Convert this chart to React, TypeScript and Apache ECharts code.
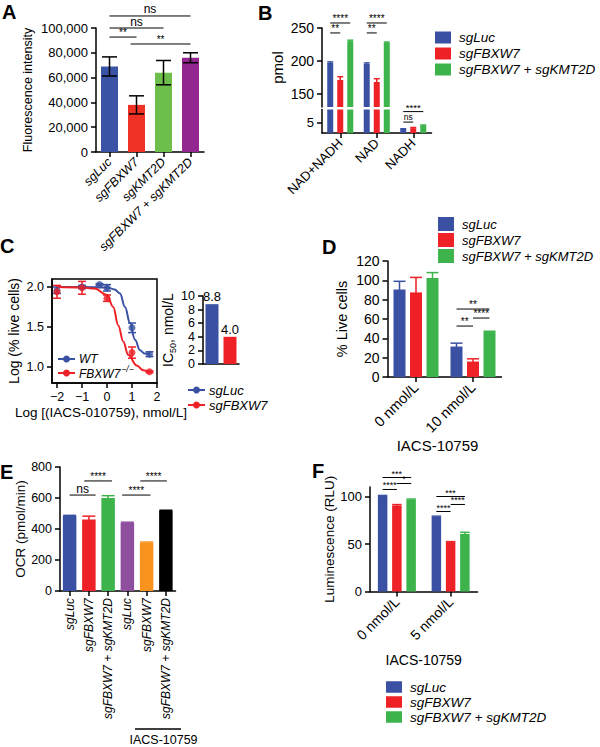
import { useEffect, useRef } from "react";
import * as echarts from "echarts";

const FONT = "'Liberation Sans', Arial, Helvetica, sans-serif";
const BLUE = "#3a51a3";
const RED = "#ed2126";
const GREEN = "#3cb44b";
const groupNames = ["sgLuc", "sgFBXW7", "sgFBXW7 + sgKMT2D"];

// ---------- Panel A
const aCategories = ["sgLuc", "sgFBXW7", "sgKMT2D", "sgFBXW7 + sgKMT2D"];
const aValues = [69000, 38000, 64000, 76000];
const aErrors = [7700, 7300, 9800, 4000];
const aSigFrom = [0, 0, 0, 0.78];
const aSigTo = [3, 2, 1, 3];
const aSigY = [109700, 100000, 92700, 87100];
const aSigText = ["ns", "ns", "**", "**"];
const aBarColors = ["#3b53a4", "#ee3124", "#6dbe4b", "#93278f"];

// ---------- Panel B
const bCategories = ["NAD+NADH", "NAD", "NADH"];
const bLuc = [197, 195.5, 1.9];
const bLucErr = [1.5, 1.5, 0.15];
const bFbxw7 = [171, 168, 2.3];
const bFbxw7Err = [5, 5, 0.3];
const bCombo = [230, 227.5, 3.6];
const bComboErr = [1.5, 1.2, 0.2];
const bTopTicks = [150, 200, 250];
const bLowTicks = [0, 5, 10];
const bSigTopCat = [0, 0, 1, 1];
const bSigTopBarFrom = [0, 0, 0, 0];
const bSigTopBarTo = [2, 1, 2, 1];
const bSigTopY = [257.6, 242.5, 257.6, 242.5];
const bSigTopText = ["****", "**", "****", "**"];
const bSigLowCat = [2, 2];
const bSigLowBarFrom = [0, 0];
const bSigLowBarTo = [2, 1];
const bSigLowY = [10.2, 5.2];
const bSigLowText = ["****", "ns"];

// ---------- Panel C
const cWtX = [-2, -1, -0.3, 0, 1, 1.7];
const cWtY = [1.96, 2.0, 2.03, 1.99, 1.49, 1.16];
const cWtErr = [0.04, 0.02, 0.01, 0.04, 0.06, 0.03];
const cKoX = [-2, -1, 0, 1, 1.7];
const cKoY = [1.94, 1.99, 1.86, 1.18, 0.94];
const cKoErr = [0.08, 0.08, 0.04, 0.07, 0.01];
const cWtFitX = [-2, -1, 0, 0.3, 0.52, 0.72, 0.92, 1.12, 1.32, 1.5, 1.7];
const cWtFitY = [2.0, 2.0, 1.995, 1.97, 1.92, 1.75, 1.55, 1.34, 1.21, 1.17, 1.16];
const cKoFitX = [-2, -1, -0.5, 0, 0.25, 0.45, 0.65, 0.85, 1.19, 1.45, 1.7];
const cKoFitY = [2.0, 1.995, 1.98, 1.9, 1.75, 1.52, 1.32, 1.15, 1.02, 0.96, 0.94];
const cXTicks = [-2, -1, 0, 1, 2];
const cYTicks = [1.0, 1.5, 2.0];
const cIcCategories = ["sgLuc", "sgFBXW7"];
const cIcValues = [8.8, 4.0];

// ---------- Panel D
const dCategories = ["0 nmol/L", "10 nmol/L"];
const dLuc = [90.5, 31.5];
const dLucErr = [8.5, 3.5];
const dFbxw7 = [87.5, 16];
const dFbxw7Err = [15.5, 2.8];
const dCombo = [102.5, 46.5];
const dComboErr = [5.5, 0.8];
const dSigCat = [1, 1, 1];
const dSigBarFrom = [0, 1, 0];
const dSigBarTo = [2, 2, 1];
const dSigY = [70.3, 61, 52.7];
const dSigText = ["**", "****", "**"];

// ---------- Panel E
const eCategories = ["sgLuc", "sgFBXW7", "sgFBXW7 + sgKMT2D", "sgLuc", "sgFBXW7", "sgFBXW7 + sgKMT2D"];
const eValues = [484, 462, 600, 439, 312, 518];
const eErrors = [4, 21, 15, 5, 4, 3];
const eSigFrom = [0, 0.76, 2.73, 3.67];
const eSigTo = [1.35, 2.2, 4.2, 5.05];
const eSigY = [619, 710, 619, 710];
const eSigText = ["ns", "****", "****", "****"];
const eBarColors = [BLUE, RED, GREEN, "#8f4f9f", "#f7931e", "#000000"];

// ---------- Panel F
const fCategories = ["0 nmol/L", "5 nmol/L"];
const fLuc = [100.5, 78.5];
const fLucErr = [0.6, 0.8];
const fFbxw7 = [90.5, 52];
const fFbxw7Err = [1.0, 0.5];
const fCombo = [96.5, 60.5];
const fComboErr = [0.8, 1.8];
const fTicks = [0, 50, 100];
const fSigCat = [0, 0, 0, 1, 1, 1];
const fSigBarFrom = [0, 1, 0, 0, 1, 0];
const fSigBarTo = [2, 2, 1, 2, 2, 1];
const fSigY = [120, 113.7, 107.4, 100, 91.6, 84.2];
const fSigText = ["***", "*", "****", "***", "****", "****"];

const idx = (arr: any[]) => arr.map((_, i) => i);

function errorBars(o: {
  grid: number; xs: number[]; ys: number[]; errs: number[]; offset?: number; cap: number;
  color: string; lowerCap?: boolean; lw?: number; clip?: boolean;
}) {
  const { grid, xs, ys, errs, offset = 0, cap, color, lowerCap = false, lw = 1.5, clip = false } = o;
  return {
    type: "custom", xAxisIndex: grid, yAxisIndex: grid, clip, silent: true, z: 3,
    encode: { x: 0, y: 1 },
    data: ys.map((v, i) => [xs[i], v, errs[i]]),
    renderItem: (_p: any, api: any) => {
      const x0 = api.value(0), v = api.value(1), e = api.value(2);
      const top = api.coord([x0, v + e]);
      const bot = api.coord([x0, v - e]);
      const x = top[0] + offset;
      const st = { stroke: color, lineWidth: lw };
      const children: any[] = [
        { type: "line", shape: { x1: x, y1: top[1], x2: x, y2: bot[1] }, style: st },
        { type: "line", shape: { x1: x - cap / 2, y1: top[1], x2: x + cap / 2, y2: top[1] }, style: st },
      ];
      if (lowerCap) children.push({ type: "line", shape: { x1: x - cap / 2, y1: bot[1], x2: x + cap / 2, y2: bot[1] }, style: st });
      return { type: "group", children };
    },
  };
}

function sigBrackets(o: {
  grid: number; from: number[]; to: number[]; ys: number[]; texts: string[];
  barFrom?: number[]; barTo?: number[]; step?: number; n?: number; nsSize?: number; starSize?: number;
}) {
  const { grid, from, to, ys, texts, barFrom, barTo, step = 0, n = 1, nsSize = 12, starSize = 10 } = o;
  return {
    type: "custom", xAxisIndex: grid, yAxisIndex: grid, clip: false, silent: true, z: 4,
    encode: { x: 0, y: 1 },
    data: ys.map((y) => [0, y]),
    renderItem: (p: any, api: any) => {
      const i = p.dataIndex;
      const base = api.coord([0, ys[i]]);
      const band = api.size([1, 0])[0];
      const pos = (c: number, b: number) => base[0] + c * band + (b - (n - 1) / 2) * step;
      const xa = pos(from[i], barFrom ? barFrom[i] : 0);
      const xb = pos(to[i], barTo ? barTo[i] : 0);
      const y = base[1];
      const star = texts[i].indexOf("*") >= 0;
      return {
        type: "group",
        children: [
          { type: "line", shape: { x1: xa, y1: y, x2: xb, y2: y }, style: { stroke: "#000", lineWidth: 1 } },
          {
            type: "text",
            style: {
              text: texts[i], x: (xa + xb) / 2, y: star ? y + 0.5 : y - 0.5,
              align: "center", verticalAlign: "bottom", textAlign: "center", textVerticalAlign: "bottom",
              fontSize: star ? starSize : nsSize, fontFamily: FONT, fill: "#000",
            },
          },
        ],
      };
    },
  };
}

const LINE = { show: true, onZero: false, lineStyle: { color: "#000", width: 1.5 } };
const TICK = { show: true, length: 5, lineStyle: { color: "#000", width: 1.5 } };

function xCat(grid: number, data: string[], label: any, extra: any = {}) {
  return {
    gridIndex: grid, type: "category", data,
    axisLine: LINE, axisTick: { ...TICK, alignWithLabel: true },
    axisLabel: { color: "#000", fontFamily: FONT, interval: 0, ...label },
    splitLine: { show: false },
    nameTextStyle: { color: "#000", fontFamily: FONT },
    ...extra,
  };
}

function yVal(grid: number, extra: any, label: any = {}, tick: any = {}) {
  return {
    gridIndex: grid, type: "value",
    axisLine: LINE, axisTick: { ...TICK, ...tick },
    axisLabel: { color: "#000", fontFamily: FONT, ...label },
    splitLine: { show: false },
    nameLocation: "middle", nameRotate: 90,
    ...extra,
  };
}

function buildOption() {
  const ctx = document.createElement("canvas").getContext("2d");
  const measure = (t: string, font: string) => {
    if (!ctx) return t.length * 7;
    ctx.font = font;
    return ctx.measureText(t).width;
  };

  const bStep = 10, dStep = 16.5, fStep = 14.3;
  const letters = [["A", 2, 12], ["B", 258, 12.5], ["C", 0, 245.5], ["D", 322, 247], ["E", 0, 471.5], ["F", 312, 471]];
  const lineIcon = (x: number, y: number, color: string) => [
    { type: "line", silent: true, shape: { x1: x, y1: y, x2: x + 17, y2: y }, style: { stroke: color, lineWidth: 2 } },
    { type: "circle", silent: true, shape: { cx: x + 8.5, cy: y, r: 3.5 }, style: { fill: color } },
  ];
  const txt = (t: string, x: number, y: number, size: number, extra: any = {}) => ({
    type: "text", silent: true, x, y,
    style: { text: t, fontSize: size, fontFamily: FONT, fill: "#000", align: "left", verticalAlign: "middle", textAlign: "left", textVerticalAlign: "middle", ...extra },
  });
  const koW = measure("FBXW7", `italic 12px ${FONT}`);

  const graphic: any[] = [
    ...letters.map(([t, x, y]) => txt(t as string, x as number, y as number, 20, { fontWeight: "bold" })),
    ...lineIcon(58, 359, BLUE), txt("WT", 79, 359, 12, { fontStyle: "italic" }),
    ...lineIcon(58, 373, RED), txt("FBXW7", 79, 374, 12, { fontStyle: "italic" }),
    txt("\u2212/\u2212", 79 + koW + 1, 369, 8.5, { fontStyle: "italic" }),
    ...lineIcon(188, 390, BLUE), txt("sgLuc", 209, 390, 13, { fontStyle: "italic" }),
    ...lineIcon(188, 405, RED), txt("sgFBXW7", 209, 405, 13, { fontStyle: "italic" }),
    { type: "line", silent: true, shape: { x1: 135, y1: 729, x2: 181, y2: 729 }, style: { stroke: "#000", lineWidth: 1.5 } },
    txt("IACS-10759", 163.5, 740, 12.5, { align: "center", textAlign: "center" }),
  ];

  const legend = (left: number, top: number, ih: number, fs: number, lh: number, gap: number) => ({
    left, top, orient: "vertical", padding: 0, itemGap: gap, itemWidth: 16, itemHeight: ih,
    icon: "rect", selectedMode: false, data: groupNames,
    textStyle: { color: "#000", fontFamily: FONT, fontSize: fs, fontStyle: "italic", lineHeight: lh, padding: [0, 0, 0, 3] },
  });

  const groupBars = (grid: number, vals: number[][], width: number, gap: string) =>
    vals.map((v, k) => ({
      type: "bar", name: groupNames[k], xAxisIndex: grid, yAxisIndex: grid, data: v,
      barWidth: width, barGap: gap, itemStyle: { color: [BLUE, RED, GREEN][k] }, silent: true,
    }));
  const groupErr = (grid: number, vals: number[][], errs: number[][], step: number, cap: number, clip = false) =>
    vals.map((v, k) => errorBars({ grid, xs: idx(v), ys: v, errs: errs[k], offset: (k - 1) * step, cap, color: [BLUE, RED, GREEN][k], clip }));

  const series: any[] = [
    // A
    { type: "bar", name: "A", xAxisIndex: 0, yAxisIndex: 0, barWidth: 17, silent: true,
      data: aValues.map((v, i) => ({ value: v, itemStyle: { color: aBarColors[i] } })) },
    errorBars({ grid: 0, xs: idx(aValues), ys: aValues, errs: aErrors, cap: 15, color: "#000", lowerCap: true }),
    sigBrackets({ grid: 0, from: aSigFrom, to: aSigTo, ys: aSigY, texts: aSigText }),
    // B
    ...groupBars(1, [bLuc, bFbxw7, bCombo], 6, "67%"),
    ...groupBars(2, [bLuc, bFbxw7, bCombo], 6, "67%"),
    ...groupErr(1, [bLuc, bFbxw7, bCombo], [bLucErr, bFbxw7Err, bComboErr], bStep, 6, true),
    ...groupErr(2, [bLuc, bFbxw7, bCombo], [bLucErr, bFbxw7Err, bComboErr], bStep, 6, true),
    sigBrackets({ grid: 1, from: bSigTopCat, to: bSigTopCat, barFrom: bSigTopBarFrom, barTo: bSigTopBarTo, ys: bSigTopY, texts: bSigTopText, step: bStep, n: 3 }),
    sigBrackets({ grid: 2, from: bSigLowCat, to: bSigLowCat, barFrom: bSigLowBarFrom, barTo: bSigLowBarTo, ys: bSigLowY, texts: bSigLowText, step: bStep, n: 3, nsSize: 8.5, starSize: 9.5 }),
    // C
    { type: "line", name: "WT fit", xAxisIndex: 3, yAxisIndex: 3, smooth: 0.4, smoothMonotone: "x", showSymbol: false, silent: true,
      lineStyle: { color: BLUE, width: 2 }, data: cWtFitX.map((x, i) => [x, cWtFitY[i]]) },
    { type: "line", name: "KO fit", xAxisIndex: 3, yAxisIndex: 3, smooth: 0.4, smoothMonotone: "x", showSymbol: false, silent: true,
      lineStyle: { color: RED, width: 2 }, data: cKoFitX.map((x, i) => [x, cKoFitY[i]]) },
    errorBars({ grid: 3, xs: cWtX, ys: cWtY, errs: cWtErr, cap: 8, color: BLUE, lowerCap: true }),
    errorBars({ grid: 3, xs: cKoX, ys: cKoY, errs: cKoErr, cap: 8, color: RED, lowerCap: true }),
    { type: "scatter", name: "WT", xAxisIndex: 3, yAxisIndex: 3, symbolSize: 7, silent: true, z: 5,
      itemStyle: { color: BLUE }, data: cWtX.map((x, i) => [x, cWtY[i]]) },
    { type: "scatter", name: "FBXW7-/-", xAxisIndex: 3, yAxisIndex: 3, symbolSize: 7, silent: true, z: 5,
      itemStyle: { color: RED }, data: cKoX.map((x, i) => [x, cKoY[i]]) },
    { type: "bar", name: "IC50", xAxisIndex: 4, yAxisIndex: 4, barWidth: 13, silent: true,
      data: cIcValues.map((v, i) => ({ value: v, itemStyle: { color: [BLUE, RED][i] } })),
      label: { show: true, position: "top", distance: 1, color: "#000", fontFamily: FONT, fontSize: 13,
        formatter: (p: any) => Number(p.value).toFixed(1) } },
    // D
    ...groupBars(5, [dLuc, dFbxw7, dCombo], 12, "37.5%"),
    ...groupErr(5, [dLuc, dFbxw7, dCombo], [dLucErr, dFbxw7Err, dComboErr], dStep, 12),
    sigBrackets({ grid: 5, from: dSigCat, to: dSigCat, barFrom: dSigBarFrom, barTo: dSigBarTo, ys: dSigY, texts: dSigText, step: dStep, n: 3 }),
    // E
    { type: "bar", name: "E", xAxisIndex: 6, yAxisIndex: 6, barWidth: 13.5, silent: true,
      data: eValues.map((v, i) => ({ value: v, itemStyle: { color: eBarColors[i] } })) },
    ...eValues.map((v, i) => errorBars({ grid: 6, xs: [i], ys: [v], errs: [eErrors[i]], cap: 13, color: eBarColors[i] })),
    sigBrackets({ grid: 6, from: eSigFrom, to: eSigTo, ys: eSigY, texts: eSigText }),
    // F
    ...groupBars(7, [fLuc, fFbxw7, fCombo], 9.5, "50%"),
    ...groupErr(7, [fLuc, fFbxw7, fCombo], [fLucErr, fFbxw7Err, fComboErr], fStep, 9.5),
    sigBrackets({ grid: 7, from: fSigCat, to: fSigCat, barFrom: fSigBarFrom, barTo: fSigBarTo, ys: fSigY, texts: fSigText, step: fStep, n: 3, starSize: 9 }),
  ];

  const minus = (v: number) => String(v).replace("-", "\u2212");

  return {
    animation: false,
    backgroundColor: "#ffffff",
    textStyle: { fontFamily: FONT },
    grid: [
      { left: 96, top: 28, width: 108, height: 124 },
      { left: 322, top: 28, width: 109.5, height: 79 },
      { left: 322, top: 109.5, width: 109.5, height: 23.5 },
      { left: 52, top: 279, width: 105, height: 104, show: true, borderColor: "#000", borderWidth: 1.5, backgroundColor: "transparent" },
      { left: 203, top: 296, width: 36, height: 68 },
      { left: 387.5, top: 261, width: 114, height: 116 },
      { left: 60, top: 467, width: 115.5, height: 124 },
      { left: 370, top: 487, width: 107.5, height: 104.5 },
    ],
    xAxis: [
      xCat(0, aCategories, { rotate: 45, fontSize: 12.5, fontStyle: "italic", margin: 8 }),
      { ...xCat(1, bCategories, {}), show: false },
      xCat(2, bCategories, { rotate: 45, fontSize: 13, margin: 8 }),
      {
        gridIndex: 3, type: "value", min: -2.2, max: 2,
        axisLine: LINE, axisTick: { ...TICK, customValues: cXTicks },
        axisLabel: { color: "#000", fontFamily: FONT, fontSize: 12.5, margin: 7, customValues: cXTicks, formatter: minus },
        splitLine: { show: false },
        name: "Log [(IACS-010759), nmol/L]", nameLocation: "middle", nameGap: 22,
        nameTextStyle: { color: "#000", fontFamily: FONT, fontSize: 13.5, padding: [0, 7, 0, 0] },
      },
      { ...xCat(4, cIcCategories, { show: false }), axisTick: { show: false } },
      xCat(5, dCategories, { rotate: 45, fontSize: 14.5, margin: 8 }, {
        name: "IACS-10759", nameLocation: "middle", nameGap: 60,
        nameTextStyle: { color: "#000", fontFamily: FONT, fontSize: 15, padding: [0, 14, 0, 0] },
      }),
      xCat(6, eCategories, { rotate: 90, fontSize: 12, fontStyle: "italic", margin: 7 }),
      xCat(7, fCategories, { rotate: 45, fontSize: 14, margin: 8 }, {
        name: "IACS-10759", nameLocation: "middle", nameGap: 61,
        nameTextStyle: { color: "#000", fontFamily: FONT, fontSize: 14 },
      }),
    ],
    yAxis: [
      yVal(0, { min: 0, max: 100000, interval: 20000, name: "Fluorescence intensity", nameGap: 62,
        nameTextStyle: { color: "#000", fontFamily: FONT, fontSize: 12.5 } },
        { fontSize: 13, formatter: (v: number) => v.toLocaleString("en-US") }),
      yVal(1, { min: 130, max: 250, name: "pmol", nameGap: 37,
        nameTextStyle: { color: "#000", fontFamily: FONT, fontSize: 15 } },
        { fontSize: 14, customValues: bTopTicks }, { customValues: bTopTicks }),
      yVal(2, { min: 0, max: 11.2 }, { fontSize: 13, customValues: bLowTicks }, { customValues: bLowTicks }),
      yVal(3, { min: 0.8, max: 2.1, name: "Log (% live cells)", nameGap: 31,
        nameTextStyle: { color: "#000", fontFamily: FONT, fontSize: 14 } },
        { fontSize: 12.5, customValues: cYTicks, formatter: (v: number) => v.toFixed(1) }, { customValues: cYTicks }),
      yVal(4, { min: 0, max: 10, interval: 2, name: "{n|IC}{s|50}{n|, nmol/L}", nameGap: 19,
        nameTextStyle: { color: "#000", fontFamily: FONT, fontSize: 14,
          rich: { n: { fontSize: 14, fontFamily: FONT, color: "#000", lineHeight: 18, verticalAlign: "middle" },
                  s: { fontSize: 9, fontFamily: FONT, color: "#000", lineHeight: 18, verticalAlign: "bottom" } } } },
        { fontSize: 12.5 }),
      yVal(5, { min: 0, max: 120, interval: 20, name: "% Live cells", nameGap: 38,
        nameTextStyle: { color: "#000", fontFamily: FONT, fontSize: 14.5 } },
        { fontSize: 14 }),
      yVal(6, { min: 0, max: 800, interval: 200, name: "OCR (pmol/min)", nameGap: 31,
        nameTextStyle: { color: "#000", fontFamily: FONT, fontSize: 13.5 } },
        { fontSize: 12.5 }),
      yVal(7, { min: 0, max: 110, name: "Luminescence (RLU)", nameGap: 30,
        nameTextStyle: { color: "#000", fontFamily: FONT, fontSize: 13.5 } },
        { fontSize: 13, customValues: fTicks }, { customValues: fTicks }),
    ],
    legend: [
      legend(435, 30.5, 12, 13.5, 13.5, 2),
      legend(438, 217, 14, 13, 14, 2),
      legend(386, 680, 11.5, 13.5, 12, 1),
    ],
    graphic,
    series,
  };
}

export default function App() {
  const ref = useRef<HTMLDivElement>(null);
  useEffect(() => {
    if (!ref.current) return;
    const chart = echarts.init(ref.current, undefined, { renderer: "svg" });
    chart.setOption(buildOption() as any);
    return () => chart.dispose();
  }, []);
  return (
    <div
      ref={ref}
      style={{ position: "absolute", left: 0, top: 0, width: 600, height: 747, background: "#fff" }}
    />
  );
}
